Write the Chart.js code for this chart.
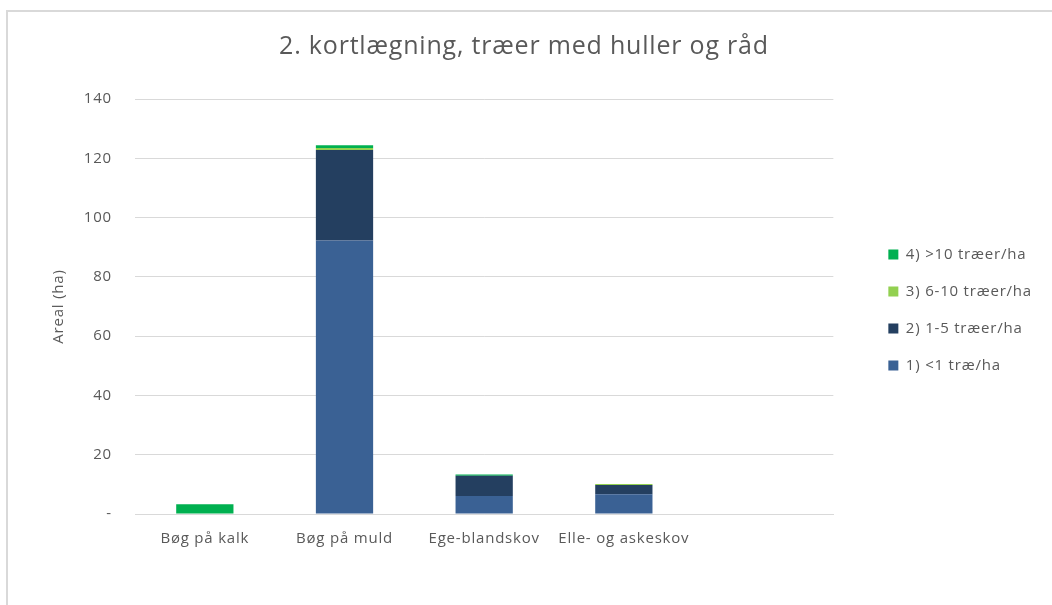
<!DOCTYPE html>
<html>
<head>
<meta charset="utf-8">
<script src="https://cdn.jsdelivr.net/npm/chart.js@4/dist/chart.umd.min.js"></script>
<style>
  html, body { margin:0; padding:0; background:#fff; }
  #frame { position:absolute; left:6px; top:10px; width:1046px; height:595px; border-left:2px solid #d9d9d9; border-top:2px solid #d9d9d9; }
  #wrap { position:absolute; left:2px; top:2px; width:1044px; height:593px; }
</style>
</head>
<body>
<div id="frame"><div id="wrap"><canvas id="c"></canvas></div></div>
<script>
/* ── DATA ── */
const categories = ["Bøg på kalk", "Bøg på muld", "Ege-blandskov", "Elle- og askeskov", ""];
const seriesNames = ["1) <1 træ/ha", "2) 1-5 træer/ha", "3) 6-10 træer/ha", "4) >10 træer/ha"];
const under1   = [0,   92.3, 6.1, 6.7, null];
const from1to5 = [0,   30.5, 6.8, 3.1, null];
const from6to10= [0,   0.7,  0,   0.3, null];
const over10   = [3.3, 0.9,  0.4, 0,   null];
const yTicks = [0, 20, 40, 60, 80, 100, 120, 140];

const colors = ["#3a6194", "#243f60", "#92d050", "#00b050"];
const values = [under1, from1to5, from6to10, over10];

const FONT = "'Open Sans', Lato, sans-serif";
const TXT = "#595959";
const LEGEND_GAP = 33, LEGEND_DROP = 25, TITLE_SHIFT = -21;

/* Excel-like loose letter spacing + legend/title placement */
const excelLook = {
  id: "excelLook",
  beforeUpdate(chart) { chart.ctx.letterSpacing = "0.8px"; },
  beforeLayout(chart) {
    chart.ctx.letterSpacing = "0.8px";
    const lg = chart.legend;
    if (lg && !lg._gapPatched) {
      lg._gapPatched = true;
      const fit = lg.fit;
      lg.fit = function () { fit.call(this); this.width += LEGEND_GAP; };
    }
  },
  afterLayout(chart) {
    const lg = chart.legend, tb = chart.titleBlock;
    if (lg) {
      lg.left += LEGEND_GAP;
      lg.top += LEGEND_DROP; lg.bottom += LEGEND_DROP;
    }
    if (tb) { tb.left += TITLE_SHIFT; tb.right += TITLE_SHIFT; }
  },
  beforeDraw(chart) { chart.ctx.letterSpacing = "0.8px"; }
};

new Chart(document.getElementById("c"), {
  type: "bar",
  data: {
    labels: categories,
    datasets: values.map((v, i) => ({
      label: seriesNames[i], data: v, backgroundColor: colors[i],
      borderWidth: 0, categoryPercentage: 1, barPercentage: 0.41
    }))
  },
  options: {
    responsive: true, maintainAspectRatio: false, animation: false,
    layout: { padding: { left: 38, right: 12, top: 0, bottom: 51 } },
    plugins: {
      title: { display: true, text: "2. kortlægning, træer med huller og råd", color: TXT,
        font: { family: FONT, size: 25, weight: "normal" }, padding: { top: 18, bottom: 37 } },
      legend: { position: "right", reverse: true,
        labels: { color: TXT, font: { family: FONT, size: 15 }, boxWidth: 10, boxHeight: 10, padding: 22 } },
      tooltip: { enabled: false }
    },
    scales: {
      x: { stacked: true, grid: { display: false }, border: { color: "#d9d9d9" },
        ticks: { color: TXT, font: { family: FONT, size: 15 }, padding: 8 } },
      y: { stacked: true, min: 0, max: 140,
        afterBuildTicks: a => { a.ticks = yTicks.map(v => ({ value: v })); },
        afterFit: a => { a.width = 87; },
        grid: { color: "#d9d9d9", drawTicks: true, tickLength: 14, tickColor: "#fff" }, border: { display: false },
        ticks: { color: TXT, font: { family: FONT, size: 15 }, padding: 9, callback: v => v === 0 ? "-" : v },
        title: { display: true, text: "Areal (ha)", color: TXT, font: { family: FONT, size: 15 }, padding: { top: 2, bottom: 10 } } }
    }
  },
  plugins: [excelLook]
});
</script>
</body>
</html>
